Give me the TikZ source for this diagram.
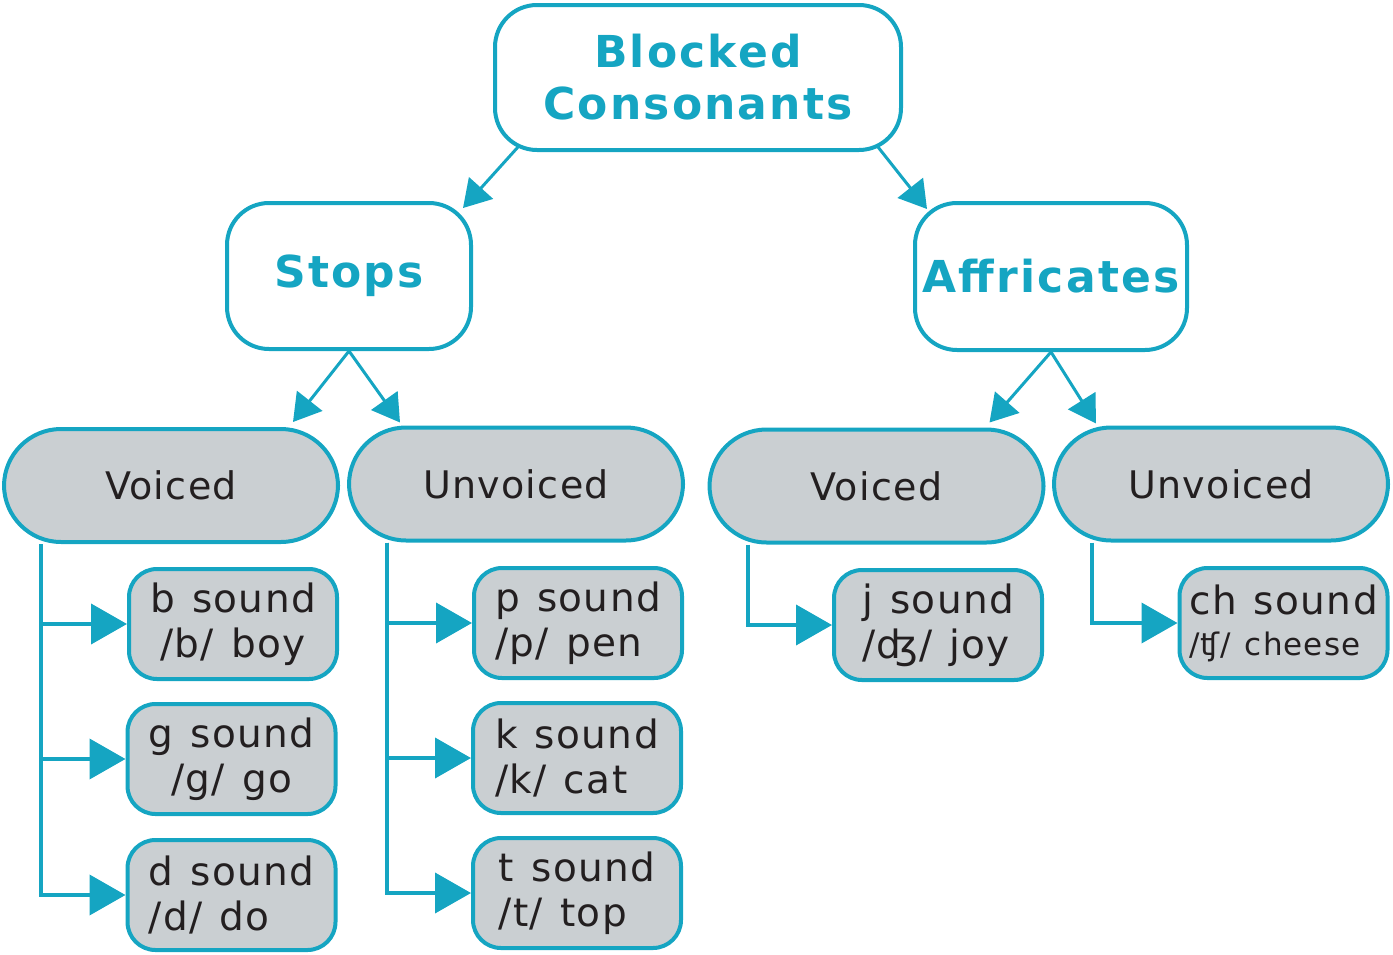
\documentclass[tikz,border=0pt]{standalone}
\usepackage{fontspec}
\setmainfont{DejaVu Sans}
\newfontfamily\leaffont[LetterSpace=3.5,WordSpace=1.25]{DejaVu Sans}
\newfontfamily\headfont[LetterSpace=5]{DejaVu Sans Bold}
\usetikzlibrary{arrows.meta,calc}
\definecolor{teal1}{RGB}{21,165,194}
\definecolor{gray1}{RGB}{202,207,210}
\definecolor{ink}{RGB}{35,31,32}
\tikzset{
  headbox/.style={draw=teal1, line width=4pt, fill=white, rectangle, rounded corners=42pt, inner sep=0pt,
    text=teal1, align=center, font=\headfont\fontsize{44}{52}\selectfont},
  pillbox/.style={draw=teal1, line width=4pt, fill=gray1, rectangle, rounded corners=57pt, inner sep=0pt,
    minimum width=334pt, minimum height=113pt, text=ink, font=\leaffont\fontsize{38}{45}\selectfont},
  leafbox/.style={draw=teal1, line width=4pt, fill=gray1, rectangle, rounded corners=28pt, inner sep=0pt,
    minimum width=208pt, minimum height=110pt, text=ink, align=left, font=\leaffont\fontsize{39}{45}\selectfont},
  diag/.style={draw=teal1, line width=3pt, -{Triangle[length=27pt,width=32pt]}},
  elbow/.style={draw=teal1, line width=4pt, -{Triangle[length=36pt,width=40pt]}},
}
\begin{document}
\begin{tikzpicture}[x=1pt,y=-1pt]
\useasboundingbox (0,0) rectangle (1393,954);
% head nodes
\node[headbox, minimum width=406pt, minimum height=145pt] (top) at (698,77.5) {\raisebox{3pt}{\parbox{400pt}{\centering Blocked\\Consonants}}};
\node[headbox, minimum width=244pt, minimum height=146pt] (stops) at (349,276) {Stops};
\node[headbox, minimum width=272pt, minimum height=147pt] (affr) at (1051,276.5) {\raisebox{2pt}{Affricates}};
% pills
\node[pillbox] (voicedL) at (171,485.5) {Voiced};
\node[pillbox] (unvoicedL) at (516,484) {Unvoiced};
\node[pillbox] (voicedR) at (876.5,486) {Voiced};
\node[pillbox] (unvoicedR) at (1221,484) {Unvoiced};
% leaves
\node[leafbox, align=center] (b) at (233,624) {b sound\\/b/ boy};
\node[leafbox, align=center] (g) at (231.5,759) {g sound\\/g/ go};
\node[leafbox] (d) at (231.5,895) {d sound\\/d/ do};
\node[leafbox] (p) at (578,623) {p sound\\/p/ pen};
\node[leafbox] (k) at (577,758) {k sound\\/k/ cat};
\node[leafbox] (t) at (577,893) {t sound\\/t/ top};
\node[leafbox] (j) at (938,625) {j sound\\/ʤ/ joy};
\node[leafbox] (ch) at (1283.5,623) {ch sound\\[-4pt]{\fontsize{31}{36}\selectfont /ʧ/ cheese}};
% diagonal arrows
\draw[diag] ($(top.south west)+(25,-5)$) -- ($(stops.north east)+(-10,7)$);
\draw[diag] ($(top.south east)+(-25,-5)$) -- ($(affr.north west)+(14,8)$);
\draw[diag] (stops.south) -- ($(voicedL.north east)+(-47,-5)$);
\draw[diag] (stops.south) -- ($(unvoicedL.north west)+(53,-3)$);
\draw[diag] (affr.south) -- ($(voicedR.north east)+(-56,-5)$);
\draw[diag] (affr.south) -- ($(unvoicedR.north west)+(44,-2)$);
% elbow connectors
\draw[elbow] ($(voicedL.south west)+(39,0)$) |- (b.west);
\draw[elbow] ($(voicedL.south west)+(39,0)$) |- (g.west);
\draw[elbow] ($(voicedL.south west)+(39,0)$) |- (d.west);
\draw[elbow] ($(unvoicedL.south west)+(40,0)$) |- (p.west);
\draw[elbow] ($(unvoicedL.south west)+(40,0)$) |- (k.west);
\draw[elbow] ($(unvoicedL.south west)+(40,0)$) |- (t.west);
\draw[elbow] ($(voicedR.south west)+(40,0)$) |- (j.west);
\draw[elbow] ($(unvoicedR.south west)+(40,0)$) |- (ch.west);
\end{tikzpicture}
\end{document}
